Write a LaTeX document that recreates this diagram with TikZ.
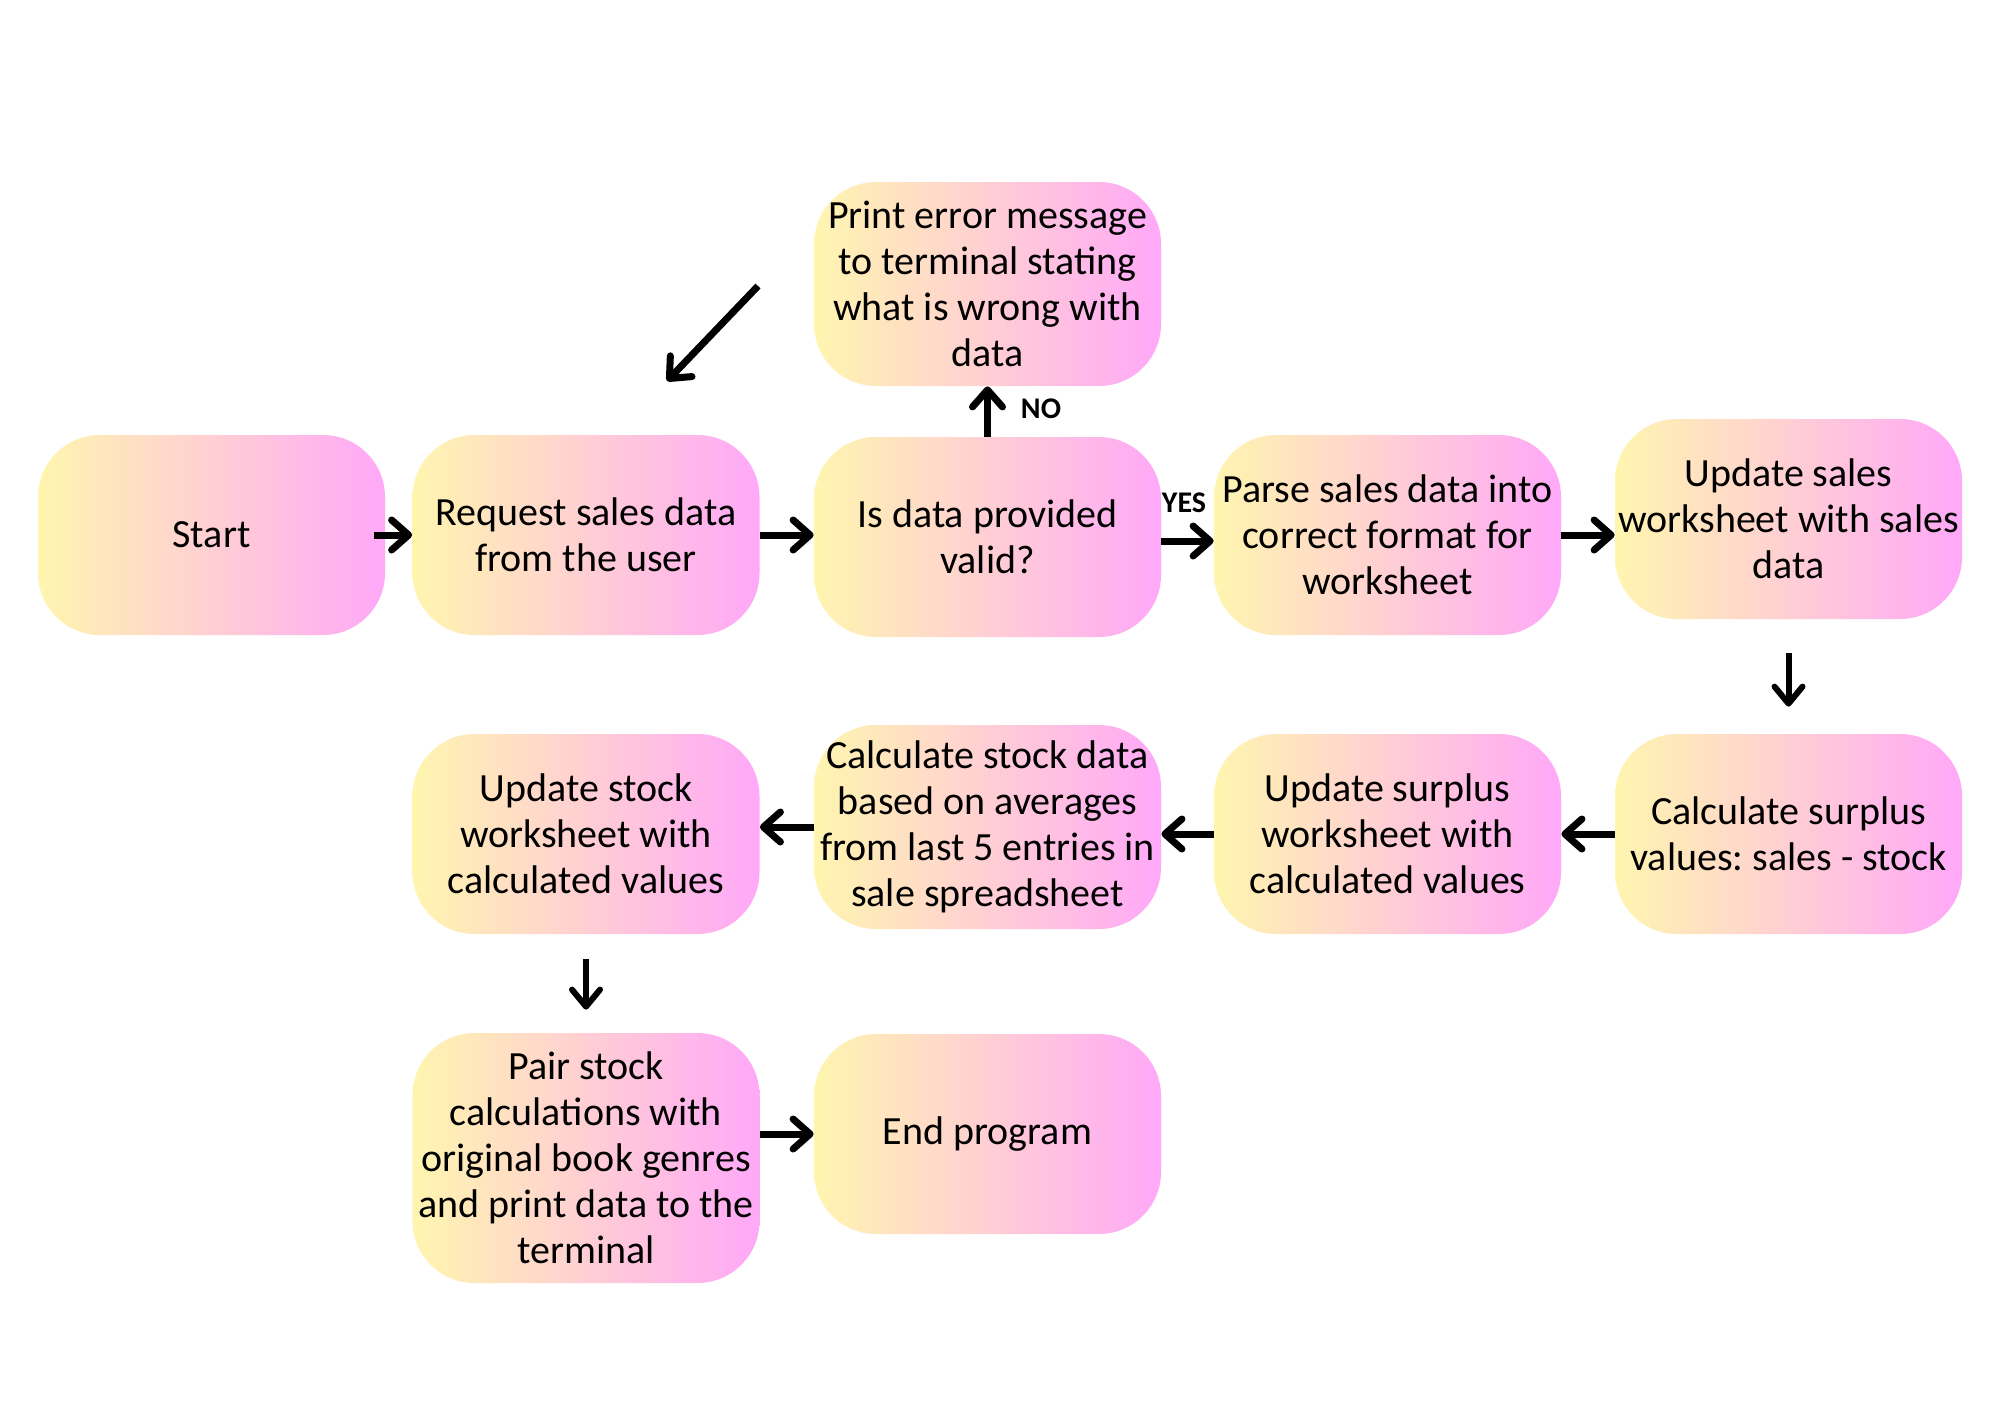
\documentclass[tikz,border=0pt]{standalone}
\usepackage{fontspec}
\setmainfont{Carlito}
\frenchspacing
\usetikzlibrary{arrows.meta,calc}
\definecolor{yel}{RGB}{255,245,175}
\definecolor{pnk}{RGB}{255,168,248}
\tikzset{
  box/.style={rectangle, rounded corners=31pt, minimum width=173.5pt, minimum height=100pt,
    left color=yel, right color=pnk, draw=none, align=center, inner sep=1pt,
    font=\fontsize{20pt}{23pt}\selectfont},
  arr/.style={line width=3.5pt, -{Straight Barb[length=8.5pt,width=15pt,round]}},
  thinarr/.style={line width=3pt, -{Straight Barb[length=8.5pt,width=14pt,round]}},
  lbl/.style={font=\fontsize{15pt}{17pt}\selectfont\bfseries, inner sep=0pt}
}
\begin{document}
\begin{tikzpicture}[x=0.5pt,y=-0.5pt]
\useasboundingbox (0,0) rectangle (2000,1414);
\node[box] (st) at (211.5,535) {Start};
\node[box] (rq) at (586,535) {Request sales data\\from the user};
\node[box] (va) at (987.5,537) {Is data provided\\valid?};
\node[box, minimum height=102pt] (er) at (987.5,284) {Print error message\\to terminal stating\\what is wrong with\\data};
\node[box] (ps) at (1387.5,535) {Parse sales data into\\correct format for\\worksheet};
\node[box] (us) at (1788.5,519) {Update sales\\worksheet with sales\\data};
\node[box] (cs) at (1788.5,834) {Calculate surplus\\values: sales - stock};
\node[box] (usu) at (1387.5,834) {Update surplus\\worksheet with\\calculated values};
\node[box, minimum height=102pt] (cst) at (987.5,827) {Calculate stock data\\based on averages\\from last 5 entries in\\sale spreadsheet};
\node[box] (ust) at (586,834) {Update stock\\worksheet with\\calculated values};
\node[box, minimum height=125pt] (pr) at (586,1158) {Pair stock\\calculations with\\original book genres\\and print data to the\\terminal};
\node[box] (en) at (987.5,1134) {End program};

\coordinate (dA) at (758,286);
\coordinate (dB) at (667,381);

\draw[arr, shorten <=-5.5pt] (st.east) -- (rq.west);
\draw[arr] (rq.east) -- (rq.east -| va.west);
\draw[arr] ($(va.east)+(0,4)$) -- ($(va.east -| ps.west)+(0,4)$);
\draw[arr] (va.north) -- (er.south);
\draw[arr] (ps.east) -- (ps.east -| us.west);
\draw[thinarr, shorten <=17pt, shorten >=13.5pt] (us.south) -- (us.south |- cs.north);
\draw[arr] (cs.west) -- (usu.east);
\draw[arr] (usu.west) -- (usu.west -| cst.east);
\draw[arr] (cst.west) -- (cst.west -| ust.east);
\draw[thinarr, shorten <=12.5pt, shorten >=11.5pt] (ust.south) -- (pr.north);
\draw[arr] (en.west -| pr.east) -- (en.west);
\draw[arr] (dA) -- (dB);

\node[lbl] (yes) at (1184,503) {YES};
\node[lbl] (no) at (1041,409) {NO};
\end{tikzpicture}
\end{document}
